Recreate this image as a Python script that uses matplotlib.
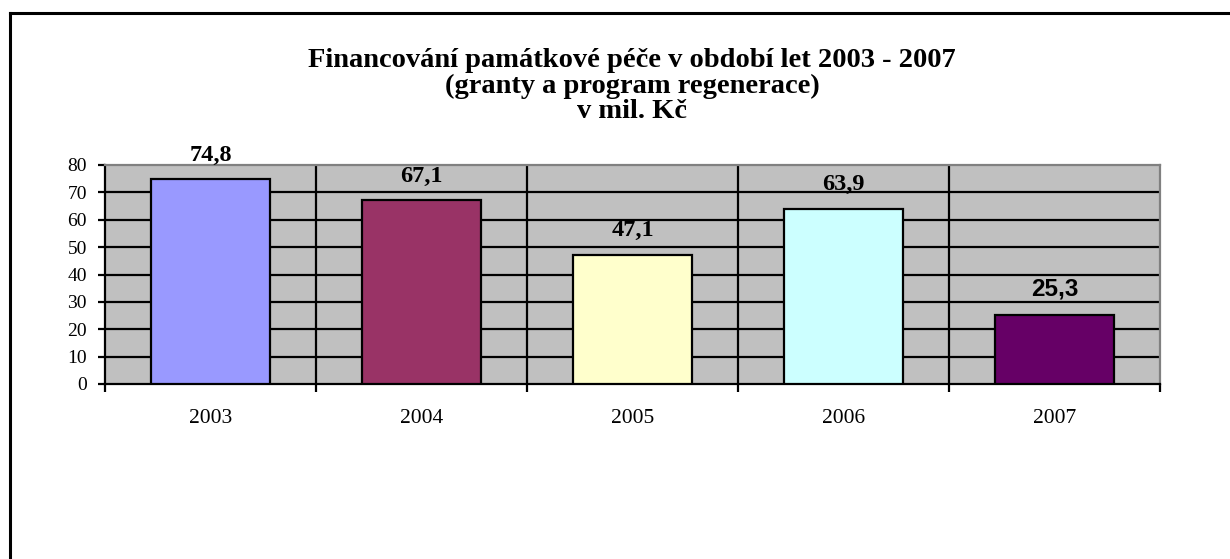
import matplotlib
matplotlib.use("Agg")
import matplotlib.pyplot as plt
from matplotlib.lines import Line2D

years = ["2003", "2004", "2005", "2006", "2007"]
values = [74.8, 67.1, 47.1, 63.9, 25.3]
labels = ["74,8", "67,1", "47,1", "63,9", "25,3"]
colors = ["#9999FF", "#993366", "#FFFFCC", "#CCFFFF", "#660066"]
yticks = [0, 10, 20, 30, 40, 50, 60, 70, 80]
title_lines = ["Financování památkové péče v období let 2003 - 2007",
               "(granty a program regenerace)",
               "v mil. Kč"]

W, H = 1230, 559
fig = plt.figure(figsize=(W / 100, H / 100), dpi=100)
fig.patch.set_facecolor("white")

# outer frame (left and top edges visible)
fig.add_artist(Line2D([10 / W, 10 / W], [0, 1 - 13 / H], transform=fig.transFigure, color="black", lw=2.2))
fig.add_artist(Line2D([10 / W, 1], [1 - 13 / H, 1 - 13 / H], transform=fig.transFigure, color="black", lw=2.2))

left, right, top, bottom = 105, 1160, 165, 384
ax = fig.add_axes([left / W, 1 - bottom / H, (right - left) / W, (bottom - top) / H])
ax.set_facecolor("#C0C0C0")

x = list(range(len(years)))
ax.bar(x, values, width=0.56, color=colors, edgecolor="black", linewidth=1.6, zorder=3)

ax.set_xlim(-0.5, len(years) - 0.5)
ax.set_ylim(0, 80)

# gridlines
for yv in yticks[1:-1]:
    ax.axhline(yv, color="black", lw=1.6, zorder=1)
for b in range(1, len(years)):
    ax.axvline(b - 0.5, color="black", lw=1.6, zorder=1)

ax.set_yticks(yticks)
ax.set_yticklabels([str(v) for v in yticks], fontfamily="Liberation Serif", fontsize=14)
ax.set_xticks([b - 0.5 for b in range(len(years) + 1)])
ax.set_xticklabels([""] * (len(years) + 1))
ax.set_xticks(x, minor=True)
ax.set_xticklabels(years, minor=True, fontfamily="Liberation Serif", fontsize=15.5)
ax.tick_params(axis="x", which="minor", length=0, pad=18)
ax.tick_params(axis="x", which="major", length=6, width=1.6, direction="out")
ax.tick_params(axis="y", length=5, width=1.6, direction="out", pad=8)

for s in ["left", "bottom"]:
    ax.spines[s].set_color("black")
    ax.spines[s].set_linewidth(1.6)
for s in ["top", "right"]:
    ax.spines[s].set_color("#808080")
    ax.spines[s].set_linewidth(1.6)

for i, (v, lab) in enumerate(zip(values, labels)):
    fam = "Liberation Sans" if i == len(values) - 1 else "Liberation Serif"
    ax.annotate(lab, (i, v), xytext=(0, 13.5), textcoords="offset points",
                ha="center", va="baseline", fontsize=17.5, fontweight="bold",
                fontfamily=fam, zorder=4)

baselines = [67, 93, 118]
for line, yb in zip(title_lines, baselines):
    fig.text(632 / W, 1 - yb / H, line, ha="center", va="baseline", fontsize=20.5,
             fontweight="bold", fontfamily="Liberation Serif")

fig.savefig("out.png", dpi=100)
